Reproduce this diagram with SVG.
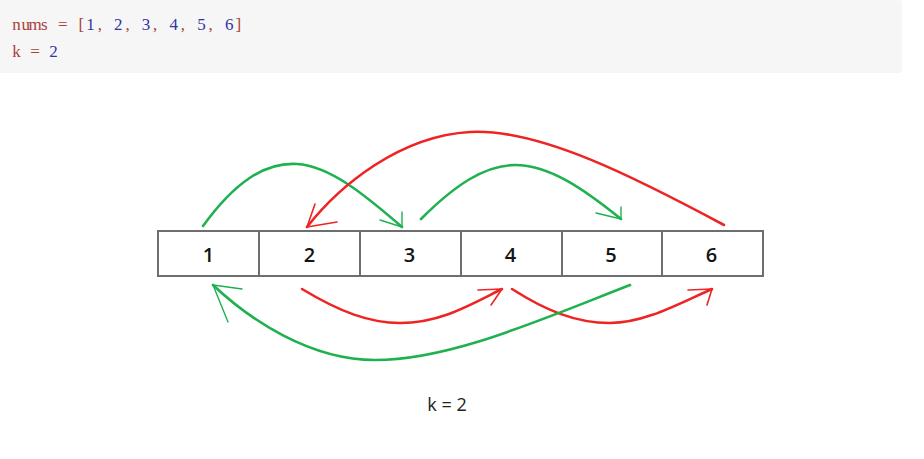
<svg xmlns="http://www.w3.org/2000/svg" width="924" height="459" viewBox="0 0 924 459">
<style>
.code{font-family:"Liberation Serif",serif;font-size:17px;text-anchor:middle}
.kw{fill:#a8403c}
.num{fill:#3434a4}
.cell{fill:#fff;stroke:#6e6e6e;stroke-width:2}
.lbl{font-family:"Open Sans","Liberation Sans",sans-serif;font-size:20px;font-weight:600;fill:#151515;text-anchor:middle}
.g{fill:none;stroke:#1fb14f;stroke-width:2.6;stroke-linecap:round}
.r{fill:none;stroke:#ee2424;stroke-width:2.6;stroke-linecap:round}
.gh{fill:none;stroke:#1fb14f;stroke-width:1.4;stroke-linecap:round;stroke-linejoin:round}
.rh{fill:none;stroke:#ee2424;stroke-width:1.6;stroke-linecap:round;stroke-linejoin:round}
</style>
<rect width="924" height="459" fill="#fff"/>
<rect x="-6" y="0" width="908" height="73" rx="4" fill="#f6f6f6"/>
<g id="code">
<text class="code" y="30" x="16.62 25.86 35.1 44.34 53.58 62.82 72.06 81.3 90.54 99.78 109.02 118.26 127.5 136.74 145.98 155.22 164.46 173.7 182.94 192.18 201.42 210.66 219.9 229.14 238.38"><tspan class="kw">nums = [</tspan><tspan class="num">1</tspan><tspan class="kw">, </tspan><tspan class="num">2</tspan><tspan class="kw">, </tspan><tspan class="num">3</tspan><tspan class="kw">, </tspan><tspan class="num">4</tspan><tspan class="kw">, </tspan><tspan class="num">5</tspan><tspan class="kw">, </tspan><tspan class="num">6</tspan><tspan class="kw">]</tspan></text>
<text class="code" y="57" x="16.62 25.86 35.1 44.34 53.58"><tspan class="kw">k = </tspan><tspan class="num">2</tspan></text>
</g>
<g id="array">
<g id="c1"><rect class="cell" x="158" y="231" width="101" height="45"/><text class="lbl" x="208.5" y="262">1</text></g>
<g id="c2"><rect class="cell" x="259" y="231" width="101" height="45"/><text class="lbl" x="309.5" y="262">2</text></g>
<g id="c3"><rect class="cell" x="360" y="231" width="101" height="45"/><text class="lbl" x="409.5" y="262">3</text></g>
<g id="c4"><rect class="cell" x="461" y="231" width="101" height="45"/><text class="lbl" x="510.5" y="262">4</text></g>
<g id="c5"><rect class="cell" x="562" y="231" width="100" height="45"/><text class="lbl" x="611" y="262">5</text></g>
<g id="c6"><rect class="cell" x="662" y="231" width="101" height="45"/><text class="lbl" x="711.5" y="262">6</text></g>
</g>
<g id="connectors">
<path class="g" d="M203,226 C235,182 265,162 297,164 C330,166 365,195 402,227"/>
<polyline class="gh" points="402,212 402,227 380,220"/>
<path class="g" d="M421,219 C455,185 485,165 515,165 C550,165 585,190 621,219"/>
<polyline class="gh" points="621,207 621,219 596,213"/>
<path class="r" d="M724,225 C640,180 540,128 470,132 C400,136 340,185 307,227"/>
<polyline class="rh" points="315,204 307,227 337,222"/>
<path class="r" d="M302,289 C340,312 370,323 400,323 C440,323 470,305 502,289"/>
<polyline class="rh" points="478,290 502,289 491,305"/>
<path class="r" d="M512,289 C545,310 575,323 610,323 C645,323 680,303 712,289"/>
<polyline class="rh" points="688,290 712,289 707,305"/>
<path class="g" d="M630,285 C540,320 450,360 375,360 C310,360 250,320 213,285"/>
<polyline class="gh" points="242,289 213,285 228,322"/>
</g>
<text id="klabel" x="447" y="411" font-family="Open Sans, Liberation Sans, sans-serif" font-size="18" fill="#222" text-anchor="middle">k = 2</text>
</svg>
